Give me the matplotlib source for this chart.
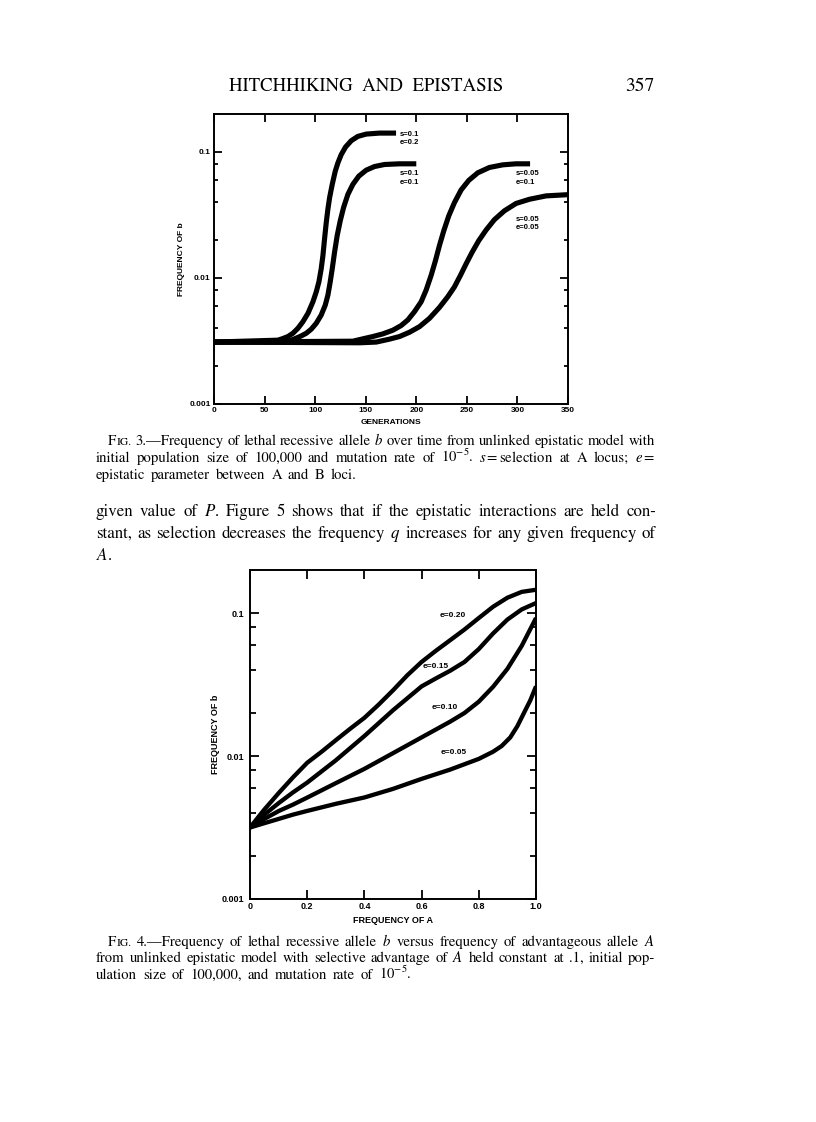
import matplotlib
matplotlib.use("Agg")
import matplotlib.pyplot as plt
from matplotlib.ticker import NullFormatter

plt.rcParams['mathtext.fontset'] = 'stix'
SERIF = 'STIXGeneral'
SANS = 'Liberation Sans'

W, H = 816, 1122

# ---- Fig. 3 data: frequency of b over generations ----
gen_a = [0, 63.2, 68.2, 73.1, 78.0, 83.0, 87.9, 92.9, 97.8, 101.1, 103.7, 106.0, 107.7, 109.3, 111.0,
         112.6, 114.3, 116.9, 119.9, 122.5, 125.8, 130.1, 135.7, 142.2, 150.5, 163.6, 180]
frq_a = [0.0031, 0.00321, 0.00331, 0.00343, 0.00364, 0.00399, 0.0045, 0.00524, 0.00647, 0.00776, 0.0093,
         0.01184, 0.01508, 0.0204, 0.0276, 0.0351, 0.0434, 0.0553, 0.0704, 0.0819, 0.0953, 0.1095, 0.1228,
         0.1328, 0.1386, 0.1411, 0.1411]
gen_b = [0, 71.4, 76.4, 81.3, 86.3, 91.2, 96.1, 101.1, 106.0, 110.0, 112.6, 114.9, 116.9, 119.2, 121.8,
         124.8, 128.1, 132.4, 137.3, 143.2, 150.5, 158.7, 168.6, 183.4, 200]
frq_b = [0.0031, 0.0031, 0.00321, 0.00333, 0.00347, 0.00364, 0.00392, 0.00437, 0.00508, 0.00609, 0.0073,
         0.0093, 0.01184, 0.01602, 0.0217, 0.0284, 0.0362, 0.0461, 0.0553, 0.0643, 0.0717, 0.0766, 0.0795,
         0.0805, 0.0805]
gen_c = [0, 137.3, 147.2, 157.1, 166.9, 176.8, 185.0, 191.6, 198.2, 204.8, 209.7, 214.7, 219.0, 222.9,
         227.2, 232.1, 237.7, 244.3, 251.9, 260.8, 272.3, 285.5, 298.6, 312.5]
frq_c = [0.0031, 0.00315, 0.00329, 0.00343, 0.0036, 0.00385, 0.00419, 0.00464, 0.0054, 0.00647, 0.008,
         0.0105, 0.01377, 0.0181, 0.0237, 0.0311, 0.0396, 0.0499, 0.0595, 0.0683, 0.0753, 0.079, 0.0805, 0.0805]
gen_d = [0, 143.9, 160.4, 173.5, 183.4, 193.3, 203.2, 213.0, 222.9, 231.1, 237.7, 243.7, 249.3, 255.2,
         261.8, 269.0, 277.2, 287.1, 298.6, 311.8, 328.3, 349.7]
frq_d = [0.0031, 0.00306, 0.0031, 0.00327, 0.00343, 0.00371, 0.00411, 0.00478, 0.00584, 0.00709, 0.00849,
         0.0105, 0.01297, 0.016, 0.0198, 0.024, 0.029, 0.0341, 0.039, 0.0421, 0.0448, 0.0458]
fig3_labels = ["s=0.1\ne=0.2", "s=0.1\ne=0.1", "s=0.05\ne=0.1", "s=0.05\ne=0.05"]

# ---- Fig. 4 data: frequency of b vs frequency of A ----
fa_20 = [0, 0.05, 0.1, 0.15, 0.2, 0.25, 0.3, 0.35, 0.4, 0.45, 0.5, 0.55, 0.6, 0.65, 0.7, 0.75, 0.8,
         0.85, 0.9, 0.95, 1.0]
fb_20 = [0.00316, 0.00422, 0.0055, 0.00708, 0.00897, 0.0107, 0.0129, 0.0155, 0.0185, 0.0229, 0.0288,
         0.0367, 0.0455, 0.0545, 0.0646, 0.0767, 0.0923, 0.1107, 0.128, 0.1406, 0.1455]
fa_15 = [0, 0.05, 0.1, 0.15, 0.2, 0.3, 0.4, 0.5, 0.6, 0.65, 0.7, 0.75, 0.8, 0.85, 0.9, 0.95, 1.0]
fb_15 = [0.00316, 0.00389, 0.00468, 0.00556, 0.00652, 0.00933, 0.0138, 0.0209, 0.0307, 0.0349, 0.0395,
         0.0455, 0.056, 0.072, 0.090, 0.106, 0.1175]
fa_10 = [0, 0.05, 0.1, 0.15, 0.2, 0.3, 0.4, 0.5, 0.6, 0.7, 0.75, 0.8, 0.85, 0.9, 0.95, 1.0]
fb_10 = [0.00316, 0.00363, 0.00412, 0.00457, 0.00512, 0.00646, 0.00813, 0.01047, 0.0135, 0.0174, 0.02,
         0.024, 0.0305, 0.0407, 0.0589, 0.0923]
fa_05 = [0, 0.05, 0.1, 0.15, 0.2, 0.3, 0.4, 0.5, 0.6, 0.7, 0.8, 0.85, 0.88, 0.91, 0.935, 0.96, 0.98, 1.0]
fb_05 = [0.00316, 0.00339, 0.00363, 0.00389, 0.00413, 0.00463, 0.00513, 0.00589, 0.00692, 0.00804,
         0.00955, 0.01072, 0.01175, 0.01349, 0.0162, 0.0204, 0.0245, 0.0307]
fig4_labels = ["e=0.20", "e=0.15", "e=0.10", "e=0.05"]

ytick_vals = [0.001, 0.01, 0.1]
ytick_text = ["0.001", "0.01", "0.1"]
yminor = [0.002, 0.004, 0.006, 0.008, 0.02, 0.04, 0.06, 0.08]
gen_ticks = [0, 50, 100, 150, 200, 250, 300, 350]
fa_ticks = [0, 0.2, 0.4, 0.6, 0.8, 1.0]
fa_tick_text = ["0", "0.2", "0.4", "0.6", "0.8", "1.0"]

fig = plt.figure(figsize=(W / 100, H / 100), dpi=100)


def box(l, t, r, b):
    return [l / W, 1 - b / H, (r - l) / W, (b - t) / H]


def style(ax, major_len, minor_len, size, ypad):
    ax.set_yscale('log')
    ax.set_ylim(0.001, 0.2)
    ax.set_yticks(ytick_vals)
    ax.set_yticklabels(ytick_text)
    ax.set_yticks(yminor, minor=True)
    ax.yaxis.set_minor_formatter(NullFormatter())
    ax.tick_params(which='both', direction='in', top=True, right=True, width=1.3)
    ax.tick_params(which='major', length=major_len, labelsize=size)
    ax.tick_params(axis='y', which='major', pad=ypad)
    ax.tick_params(axis='x', which='major', pad=2.5)
    ax.tick_params(which='minor', length=minor_len)
    for s in ax.spines.values():
        s.set_linewidth(1.4)
    for lab in ax.get_xticklabels() + ax.get_yticklabels():
        lab.set_fontfamily(SANS)
        lab.set_fontweight('bold')


# ---- Fig. 3 ----
ax1 = fig.add_axes(box(214, 114, 568, 404))
for g, f in [(gen_a, frq_a), (gen_b, frq_b), (gen_c, frq_c), (gen_d, frq_d)]:
    ax1.plot(g, f, color='black', lw=3.7, solid_capstyle='butt', solid_joinstyle='round')
ax1.set_xlim(0, 350)
ax1.set_xticks(gen_ticks)
style(ax1, 5.5, 3, 6, 2.5)
ax1.set_xlabel("GENERATIONS", fontsize=6, fontweight='bold', family=SANS, labelpad=3)
ax1.set_ylabel("FREQUENCY OF b", fontsize=6, fontweight='bold', family=SANS, labelpad=3)
lab_kw = dict(fontsize=5.5, fontweight='bold', family=SANS, va='center', ha='left', linespacing=1.25)
ax1.text(184, 0.1285, fig3_labels[0], **lab_kw)
ax1.text(184, 0.0622, fig3_labels[1], **lab_kw)
ax1.text(298.6, 0.0622, fig3_labels[2], **lab_kw)
ax1.text(298.6, 0.0272, fig3_labels[3], **lab_kw)

# ---- Fig. 4 ----
ax2 = fig.add_axes(box(250, 570, 536, 899))
for a, b in [(fa_20, fb_20), (fa_15, fb_15), (fa_10, fb_10), (fa_05, fb_05)]:
    ax2.plot(a, b, color='black', lw=3.1, solid_capstyle='butt', solid_joinstyle='round')
ax2.set_xlim(0, 1.0)
ax2.set_xticks(fa_ticks)
ax2.set_xticklabels(fa_tick_text)
style(ax2, 6.5, 4, 6.5, 4.5)
ax2.set_xlabel("FREQUENCY OF A", fontsize=6.5, fontweight='bold', family=SANS, labelpad=3)
ax2.set_ylabel("FREQUENCY OF b", fontsize=6.5, fontweight='bold', family=SANS, labelpad=1)
lab2 = dict(fontsize=6, fontweight='bold', family=SANS, va='center', ha='left')
ax2.text(0.664, 0.0958, fig4_labels[0], **lab2)
ax2.text(0.604, 0.0425, fig4_labels[1], **lab2)
ax2.text(0.635, 0.0217, fig4_labels[2], **lab2)
ax2.text(0.667, 0.0105, fig4_labels[3], **lab2)

# ---- page text ----
renderer = fig.canvas.get_renderer()


def put_line(words, x0, x1, y, size, justify=True):
    arts, widths = [], []
    for w in words:
        if isinstance(w, tuple):  # small caps word
            t1 = fig.text(0, 1 - y / H, w[0], fontsize=size, family=SERIF, va='baseline')
            t2 = fig.text(0, 1 - y / H, w[1], fontsize=size * 0.78, family=SERIF, va='baseline')
            w1 = t1.get_window_extent(renderer).width
            w2 = t2.get_window_extent(renderer).width
            arts.append([(t1, 0), (t2, w1)])
            widths.append(w1 + w2)
        else:
            t = fig.text(0, 1 - y / H, w, fontsize=size, family=SERIF, va='baseline')
            arts.append([(t, 0)])
            widths.append(t.get_window_extent(renderer).width)
    if justify and len(words) > 1:
        gap = (x1 - x0 - sum(widths)) / (len(words) - 1)
    else:
        gap = size * 0.4 * 100 / 72
    x = x0
    for parts, w in zip(arts, widths):
        for t, off in parts:
            t.set_x((x + off) / W)
        x += w + gap


fig.text(229 / W, 1 - 91 / H, "HITCHHIKING  AND  EPISTASIS", fontsize=13.5, family=SERIF, va='baseline')
fig.text(655 / W, 1 - 91 / H, "357", fontsize=14, family=SERIF, va='baseline', ha='right')

cap3 = [
    [('F', 'IG.'), "3.—Frequency", "of", "lethal", "recessive", "allele", "$b$", "over", "time", "from",
     "unlinked", "epistatic", "model", "with"],
    ["initial", "population", "size", "of", "100,000", "and", "mutation", "rate", "of", "10$^{-5}$.",
     "$s=$selection", "at", "A", "locus;", "$e=$"],
    ["epistatic", "parameter", "between", "A", "and", "B", "loci."],
]
put_line(cap3[0], 108, 655, 445, 10.6)
put_line(cap3[1], 96, 655, 462, 10.6)
put_line(cap3[2], 96, 655, 479, 10.6, justify=False)

body = [
    ["given", "value", "of", "$P$.", "Figure", "5", "shows", "that", "if", "the", "epistatic",
     "interactions", "are", "held", "con-"],
    ["stant,", "as", "selection", "decreases", "the", "frequency", "$q$", "increases", "for", "any",
     "given", "frequency", "of"],
    ["$A$."],
]
put_line(body[0], 96, 656, 516, 12.2)
put_line(body[1], 96, 656, 538, 12.2)
put_line(body[2], 96, 656, 560, 12.2, justify=False)

cap4 = [
    [('F', 'IG.'), "4.—Frequency", "of", "lethal", "recessive", "allele", "$b$", "versus", "frequency",
     "of", "advantageous", "allele", "$A$"],
    ["from", "unlinked", "epistatic", "model", "with", "selective", "advantage", "of", "$A$", "held",
     "constant", "at", ".1,", "initial", "pop-"],
    ["ulation", "size", "of", "100,000,", "and", "mutation", "rate", "of", "10$^{-5}$."],
]
put_line(cap4[0], 108, 655, 946, 10.6)
put_line(cap4[1], 96, 655, 962, 10.6)
put_line(cap4[2], 96, 655, 979, 10.6, justify=False)

fig.savefig("out.png", dpi=100)
